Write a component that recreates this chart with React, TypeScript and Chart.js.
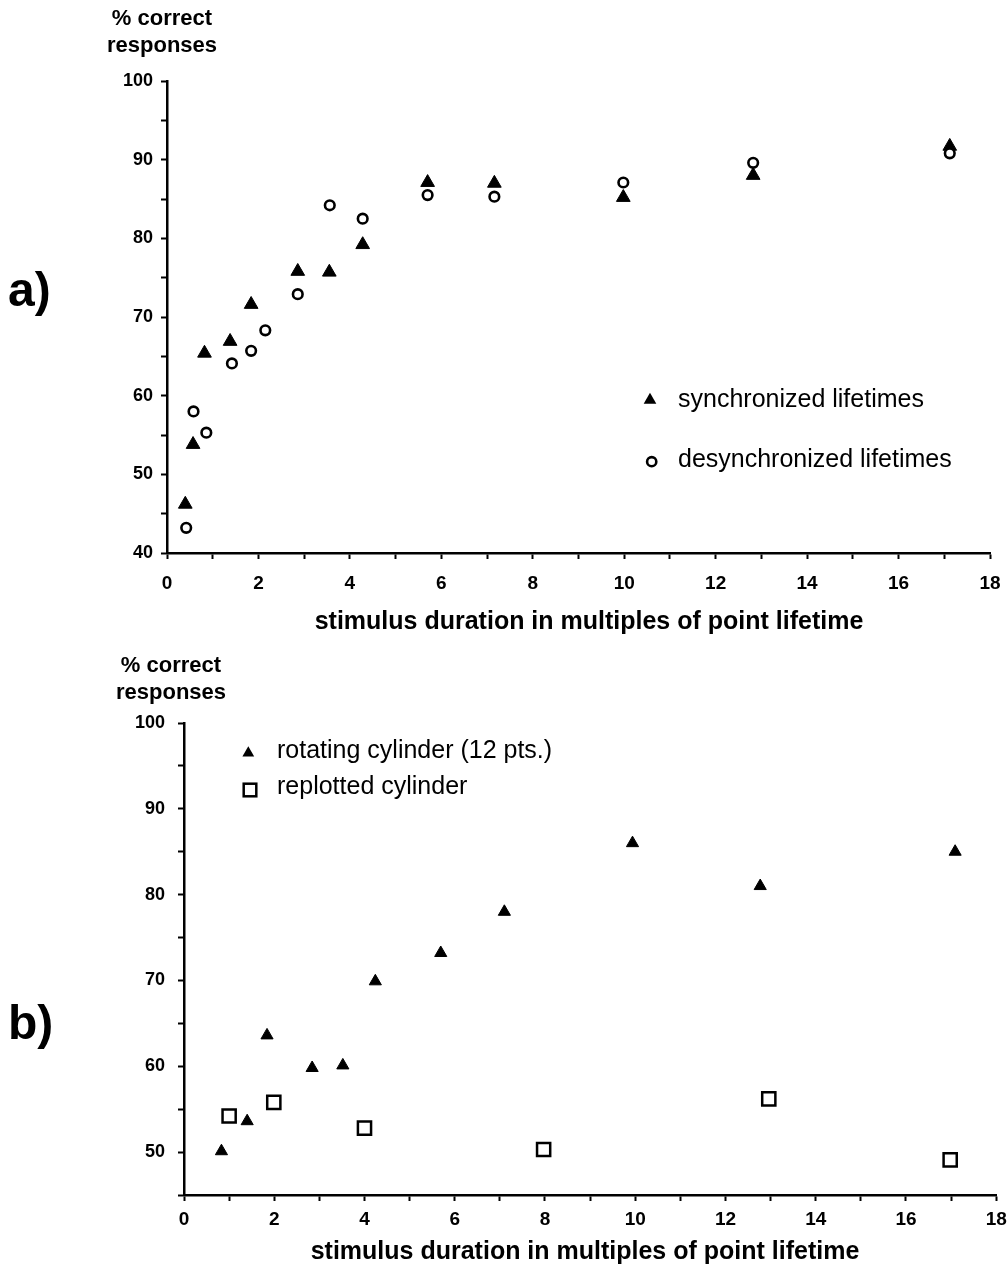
import React, { useEffect, useRef } from 'react';
import { Chart, registerables } from 'chart.js';

Chart.register(...registerables);

const FONT = "'Liberation Sans', Arial, Helvetica, sans-serif";

// ---------- Panel a data ----------
const syncX = [0.4, 0.57, 0.82, 1.38, 1.84, 2.86, 3.55, 4.28, 5.7, 7.16, 9.98, 12.82, 17.12];
const syncY = [46.2, 53.8, 65.4, 66.9, 71.6, 75.8, 75.7, 79.2, 87.1, 87.0, 85.2, 88.0, 91.7];
const desyncX = [0.42, 0.58, 0.86, 1.42, 1.84, 2.15, 2.86, 3.56, 4.28, 5.7, 7.16, 9.98, 12.82, 17.12];
const desyncY = [43.2, 58.0, 55.3, 64.1, 65.7, 68.3, 72.9, 84.2, 82.5, 85.5, 85.3, 87.1, 89.6, 90.8];

// ---------- Panel b data ----------
const rotX = [0.83, 1.4, 1.84, 2.84, 3.52, 4.24, 5.69, 7.1, 9.94, 12.77, 17.09];
const rotY = [50.1, 53.6, 63.6, 59.8, 60.1, 69.9, 73.2, 78.0, 86.0, 81.0, 85.0];
const repX = [1.0, 1.99, 4.0, 7.97, 12.96, 16.98];
const repY = [54.2, 55.8, 52.8, 50.3, 56.2, 49.1];

// ---------- Text ----------
const panelLabels = ['a)', 'b)'];
const yTitleLines = ['% correct', 'responses'];
const xTitle = 'stimulus duration in multiples of point lifetime';
const legendA = ['synchronized lifetimes', 'desynchronized lifetimes'];
const legendB = ['rotating cylinder (12 pts.)', 'replotted cylinder'];

// axis ranges / ticks
const xRange = [0, 18];
const xStep = 1;
const xLabelEvery = 2;
const yRangeA = [40, 100];
const yRangeB = [45, 100];
const yStep = 5;
const yLabelEvery = 10;

function pts(xs: number[], ys: number[]) {
  return xs.map((x, i) => ({ x, y: ys[i] }));
}

function triangle(ctx: CanvasRenderingContext2D, x: number, y: number, r: number) {
  const s = Math.sin((2 * Math.PI) / 3) * r;
  ctx.beginPath();
  ctx.moveTo(x, y - r);
  ctx.lineTo(x + s, y + r / 2);
  ctx.lineTo(x - s, y + r / 2);
  ctx.closePath();
  ctx.fillStyle = '#000';
  ctx.fill();
}

function makeScales(o: {
  yMin: number;
  yMax: number;
  yWidth: number;
  xHeight: number;
  xPad: number;
  yPad: number;
}) {
  return {
    x: {
      type: 'linear' as const,
      min: xRange[0],
      max: xRange[1],
      ticks: {
        stepSize: xStep,
        autoSkip: false,
        maxRotation: 0,
        padding: o.xPad,
        color: '#000',
        font: { family: FONT, weight: 'bold' as const, size: 19 },
        callback: (v: any) => (Math.round(v) % xLabelEvery === 0 ? String(Math.round(v)) : ''),
      },
      grid: { drawOnChartArea: false, drawTicks: true, tickLength: 6, tickWidth: 2, tickColor: '#000' },
      border: { display: true, color: '#000', width: 2.5 },
      afterFit: (s: any) => {
        s.height = o.xHeight;
        s.paddingLeft = 0;
        s.paddingRight = 0;
      },
    },
    y: {
      type: 'linear' as const,
      min: o.yMin,
      max: o.yMax,
      ticks: {
        stepSize: yStep,
        autoSkip: false,
        padding: o.yPad,
        color: '#000',
        font: { family: FONT, weight: 'bold' as const, size: 18 },
        callback: (v: any) => (Math.round(v) % yLabelEvery === 0 ? String(Math.round(v)) : ''),
      },
      grid: { drawOnChartArea: false, drawTicks: true, tickLength: 6, tickWidth: 2, tickColor: '#000' },
      border: { display: true, color: '#000', width: 2.5 },
      afterFit: (s: any) => {
        s.width = o.yWidth;
        s.paddingTop = 0;
        s.paddingBottom = 0;
      },
    },
  };
}

const extrasA = {
  id: 'extrasA',
  afterDraw(chart: any) {
    const ctx: CanvasRenderingContext2D = chart.ctx;
    ctx.save();
    ctx.fillStyle = '#000';
    ctx.textBaseline = 'alphabetic';
    ctx.textAlign = 'center';
    ctx.font = `bold 22px ${FONT}`;
    ctx.fillText(yTitleLines[0], 162, 25);
    ctx.fillText(yTitleLines[1], 162, 52);
    ctx.font = `bold 25px ${FONT}`;
    ctx.fillText(xTitle, 589, 629);
    ctx.textAlign = 'left';
    ctx.font = `bold 48px ${FONT}`;
    ctx.fillText(panelLabels[0], 8, 306);
    // legend
    ctx.font = `25px ${FONT}`;
    triangle(ctx, 650, 400, 7.3);
    ctx.fillStyle = '#000';
    ctx.fillText(legendA[0], 678, 407);
    ctx.beginPath();
    ctx.arc(651.7, 461.7, 4.6, 0, Math.PI * 2);
    ctx.lineWidth = 2.6;
    ctx.strokeStyle = '#000';
    ctx.stroke();
    ctx.fillText(legendA[1], 678, 467);
    ctx.restore();
  },
};

const OFF_B = 640;
const extrasB = {
  id: 'extrasB',
  afterDraw(chart: any) {
    const ctx: CanvasRenderingContext2D = chart.ctx;
    ctx.save();
    ctx.fillStyle = '#000';
    ctx.textBaseline = 'alphabetic';
    ctx.textAlign = 'center';
    ctx.font = `bold 22px ${FONT}`;
    ctx.fillText(yTitleLines[0], 171, 672 - OFF_B);
    ctx.fillText(yTitleLines[1], 171, 699 - OFF_B);
    ctx.font = `bold 25px ${FONT}`;
    ctx.fillText(xTitle, 585, 1259 - OFF_B);
    ctx.textAlign = 'left';
    ctx.font = `bold 48px ${FONT}`;
    ctx.fillText(panelLabels[1], 8, 1039 - OFF_B);
    // legend
    ctx.font = `25px ${FONT}`;
    triangle(ctx, 248.3, 753 - OFF_B, 6.8);
    ctx.fillStyle = '#000';
    ctx.fillText(legendB[0], 277, 758 - OFF_B);
    ctx.lineWidth = 2.5;
    ctx.strokeStyle = '#000';
    ctx.strokeRect(250 - 6.3, 790 - OFF_B - 6.3, 12.6, 12.6);
    ctx.fillText(legendB[1], 277, 794 - OFF_B);
    ctx.restore();
  },
};

export default function App() {
  const refA = useRef<HTMLCanvasElement>(null);
  const refB = useRef<HTMLCanvasElement>(null);

  useEffect(() => {
    if (!refA.current || !refB.current) return;
    const common = {
      responsive: false,
      animation: false as const,
      devicePixelRatio: 1,
      events: [] as any[],
      plugins: { legend: { display: false }, tooltip: { enabled: false } },
    };

    const chartA = new Chart(refA.current, {
      type: 'scatter',
      data: {
        datasets: [
          {
            label: legendA[1],
            data: pts(desyncX, desyncY),
            pointStyle: 'circle',
            pointRadius: 4.8,
            backgroundColor: '#fff',
            borderColor: '#000',
            borderWidth: 2.6,
            order: 0,
          },
          {
            label: legendA[0],
            data: pts(syncX, syncY),
            pointStyle: 'triangle',
            pointRadius: 7.9,
            backgroundColor: '#000',
            borderColor: '#000',
            borderWidth: 1,
            order: 1,
          },
        ],
      },
      options: {
        ...common,
        layout: { padding: { left: 0, right: 18, top: 81, bottom: 0 } },
        scales: makeScales({ yMin: yRangeA[0], yMax: yRangeA[1], yWidth: 167, xHeight: 87, xPad: 13, yPad: 8 }),
      } as any,
      plugins: [extrasA],
    });

    const chartB = new Chart(refB.current, {
      type: 'scatter',
      data: {
        datasets: [
          {
            label: legendB[1],
            data: pts(repX, repY),
            pointStyle: 'rect',
            pointRadius: 9.3,
            backgroundColor: '#fff',
            borderColor: '#000',
            borderWidth: 2.5,
            order: 0,
          },
          {
            label: legendB[0],
            data: pts(rotX, rotY),
            pointStyle: 'triangle',
            pointRadius: 7,
            backgroundColor: '#000',
            borderColor: '#000',
            borderWidth: 1,
            order: 1,
          },
        ],
      },
      options: {
        ...common,
        layout: { padding: { left: 0, right: 10, top: 83, bottom: 0 } },
        scales: makeScales({ yMin: yRangeB[0], yMax: yRangeB[1], yWidth: 184, xHeight: 75, xPad: 7, yPad: 13 }),
      } as any,
      plugins: [extrasB],
    });

    return () => {
      chartA.destroy();
      chartB.destroy();
    };
  }, []);

  return (
    <div style={{ position: 'absolute', left: 0, top: 0, width: 1008, height: 1270, background: '#fff' }}>
      <canvas
        ref={refA}
        width={1008}
        height={640}
        style={{ position: 'absolute', left: 0, top: 0, display: 'block' }}
      />
      <canvas
        ref={refB}
        width={1008}
        height={630}
        style={{ position: 'absolute', left: 0, top: 640, display: 'block' }}
      />
    </div>
  );
}
